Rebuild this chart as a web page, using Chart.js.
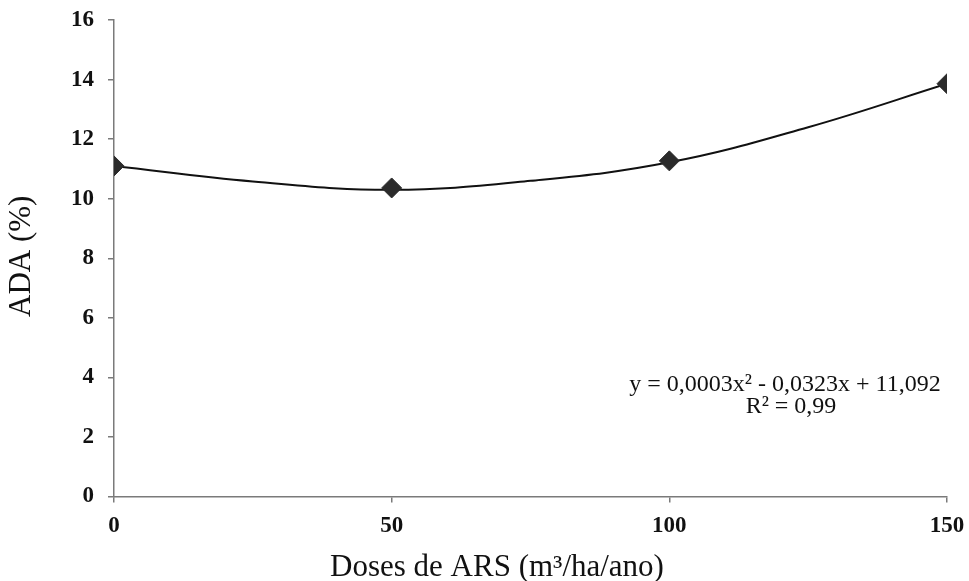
<!DOCTYPE html>
<html>
<head>
<meta charset="utf-8">
<script src="https://cdn.jsdelivr.net/npm/chart.js@4.4.1/dist/chart.umd.min.js"></script>
<style>
  html, body { margin: 0; padding: 0; background: #fff; }
  #wrap { width: 969px; height: 581px; }
</style>
</head>
<body>
<div id="wrap"><canvas id="chart" width="969" height="581"></canvas></div>
<script>
// observed points (dose, ADA %)
const doses = [0, 50, 100, 150];
const adaValues = [11.1, 10.36, 11.27, 13.86];

// fitted curve
const curveDoses = [0, 25, 50, 75, 100, 125, 150];
const curveValues = [11.1, 10.58, 10.3, 10.6, 11.22, 12.4, 13.86];

const yTicks = [0, 2, 4, 6, 8, 10, 12, 14, 16];
const xTicks = [0, 50, 100, 150];

const xTitle = 'Doses de ARS (m³/ha/ano)';
const yTitle = 'ADA (%)';
const equationLines = ['y = 0,0003x² - 0,0323x + 11,092', 'R² = 0,99'];

const serif = "'Liberation Serif', 'Times New Roman', serif";
const axisGray = '#7a7a7a';

// equation and axis titles, placed relative to the plot area
const textPlugin = {
    id: 'texts',
    afterDraw(chart) {
        const { ctx, chartArea } = chart;
        ctx.save();
        ctx.fillStyle = '#111';
        ctx.textAlign = 'center';
        ctx.textBaseline = 'middle';

        ctx.font = '24px ' + serif;
        ctx.fillText(equationLines[0], chartArea.right - 162, 385);
        ctx.fillText(equationLines[1], chartArea.right - 156, 407);

        ctx.font = '31px ' + serif;
        ctx.fillText(xTitle, chartArea.left + 383, 568);

        ctx.translate(22, (chartArea.top + chartArea.bottom) / 2 - 2);
        ctx.rotate(-Math.PI / 2);
        ctx.fillText(yTitle, 0, 0);
        ctx.restore();
    }
};

const ctx = document.getElementById('chart').getContext('2d');
new Chart(ctx, {
    type: 'scatter',
    data: {
        datasets: [
            {
                label: 'ADA',
                data: doses.map((d, i) => ({ x: d, y: adaValues[i] })),
                pointStyle: 'rectRot',
                pointRadius: 10,
                pointHoverRadius: 10,
                backgroundColor: '#2b2b2b',
                borderColor: '#2b2b2b',
                borderWidth: 1,
                showLine: false,
                order: 0
            },
            {
                label: 'Curva',
                data: curveDoses.map((d, i) => ({ x: d, y: curveValues[i] })),
                showLine: true,
                pointRadius: 0,
                borderColor: '#111',
                borderWidth: 2,
                tension: 0.4,
                fill: false,
                order: 1
            }
        ]
    },
    options: {
        responsive: false,
        animation: false,
        layout: { padding: { left: 0, right: 22, top: 20, bottom: 0 } },
        plugins: {
            legend: { display: false },
            tooltip: { enabled: false }
        },
        scales: {
            x: {
                type: 'linear',
                min: 0,
                max: 150,
                afterBuildTicks: (s) => { s.ticks = xTicks.map(v => ({ value: v })); },
                afterFit: (s) => { s.height = 84.5; s.paddingLeft = 0; s.paddingRight = 0; },
                grid: { drawOnChartArea: false, color: axisGray, tickLength: 6, lineWidth: 1.5 },
                border: { color: axisGray, width: 1.5 },
                ticks: { color: '#111', font: { family: serif, size: 23, weight: 'bold' }, padding: 10 }
            },
            y: {
                min: 0,
                max: 16,
                afterBuildTicks: (s) => { s.ticks = yTicks.map(v => ({ value: v })); },
                afterFit: (s) => { s.width = 114; s.paddingTop = 0; s.paddingBottom = 0; },
                grid: { drawOnChartArea: false, color: axisGray, tickLength: 6, lineWidth: 1.5 },
                border: { color: axisGray, width: 1.5 },
                ticks: { color: '#111', font: { family: serif, size: 23, weight: 'bold' }, padding: 14 }
            }
        }
    },
    plugins: [textPlugin]
});
</script>
</body>
</html>
